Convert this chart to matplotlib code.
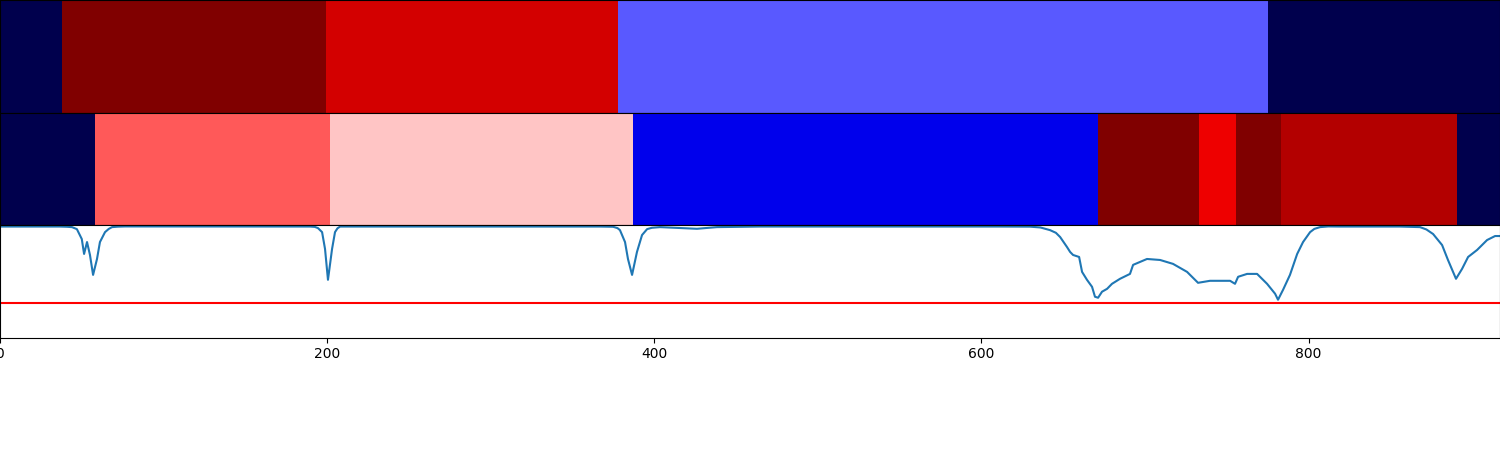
import matplotlib
matplotlib.use("Agg")
import matplotlib.pyplot as plt
import numpy as np

# Segment labels for the two colour strips (edges in sample index, value on seismic scale)
top_edges = [0, 37.7, 199.3, 377.8, 775.2, 917]
top_values = [0.0, 1.0, 0.835, 0.336, 0.0]

mid_edges = [0, 58.1, 201.7, 387.0, 671.3, 733.0, 755.6, 783.2, 890.7, 917]
mid_values = [0.0, 0.664, 0.558, 0.226, 1.0, 0.783, 1.0, 0.897, 0.0]

# Signal trace
signal_x = [0, 36.7, 41, 44, 47, 50, 51.4, 53.2, 55, 56.9, 59.3, 61.1, 64.2, 66.5, 68.5,
            72, 76.4,
            189.5, 192.5, 194.4, 196.9, 198.7, 200.5, 203, 204.8, 206.3, 207.9,
            366.8, 374.8, 377.5, 379, 382.1, 383.9, 386.4, 389.4, 392.5, 395.6, 398.5,
            403.5, 426.1, 438.3, 464.6, 611.4, 629.7, 636, 641.9, 645.5, 648.1, 652.3,
            654.2, 656, 659.7, 661.5, 664.5, 667.6, 669.4, 671.3, 673.7, 676.8, 679.8,
            684.7, 690.8, 692.7, 701.2, 709.2, 717.1, 725.7, 732.4, 739.7, 752, 755,
            756.9, 762.4, 768.5, 774.6, 779.5, 781.3, 784.4, 788.6, 793, 796.6, 800.9,
            803.5, 807, 812, 819.2, 855.9, 868.1, 872, 876.1, 881.6, 885.2, 890.1,
            893.8, 897.5, 903, 909.1, 914, 917]
signal_y = [0.996, 0.996, 0.994, 0.991, 0.973, 0.884, 0.75, 0.857, 0.741, 0.562, 0.705,
            0.857, 0.946, 0.975, 0.991, 0.995, 0.997,
            0.996, 0.993, 0.982, 0.946, 0.795, 0.518, 0.795, 0.946, 0.98, 0.996,
            0.996, 0.994, 0.982, 0.964, 0.857, 0.705, 0.562, 0.768, 0.92, 0.973, 0.985,
            0.991, 0.976, 0.991, 0.996, 0.996, 0.995, 0.988, 0.964, 0.94, 0.902, 0.812,
            0.768, 0.741, 0.723, 0.589, 0.518, 0.455, 0.366, 0.357, 0.411, 0.437, 0.482,
            0.527, 0.571, 0.652, 0.705, 0.696, 0.661, 0.589, 0.491, 0.509, 0.509, 0.482,
            0.545, 0.571, 0.571, 0.482, 0.393, 0.339, 0.429, 0.562, 0.75, 0.857, 0.946,
            0.975, 0.991, 0.997, 0.996, 0.996, 0.991, 0.97, 0.929, 0.83, 0.696, 0.527,
            0.616, 0.723, 0.786, 0.875, 0.911, 0.911]
threshold = 0.3125

fig, axes = plt.subplots(3, 1, figsize=(15, 4.5), dpi=100, sharex=True)
fig.subplots_adjust(left=0, right=1, top=1, bottom=0.25, hspace=0)

# Colour strips
for ax, edges, values in [(axes[0], top_edges, top_values), (axes[1], mid_edges, mid_values)]:
    ax.pcolormesh(edges, [0, 1], [values], cmap="seismic", vmin=0, vmax=1)
    ax.set_ylim(0, 1)
    ax.set_yticks([])
    ax.tick_params(axis="x", bottom=False, labelbottom=False)

# Signal with threshold line
axes[2].plot(signal_x, signal_y, color="tab:blue", lw=1.5)
axes[2].axhline(threshold, color="red", lw=1.5)
axes[2].set_ylim(0, 1.01)
axes[2].set_yticks([])
axes[2].set_xlim(0, 917)
axes[2].set_xticks([0, 200, 400, 600, 800])

fig.savefig("out.png", dpi=100)
